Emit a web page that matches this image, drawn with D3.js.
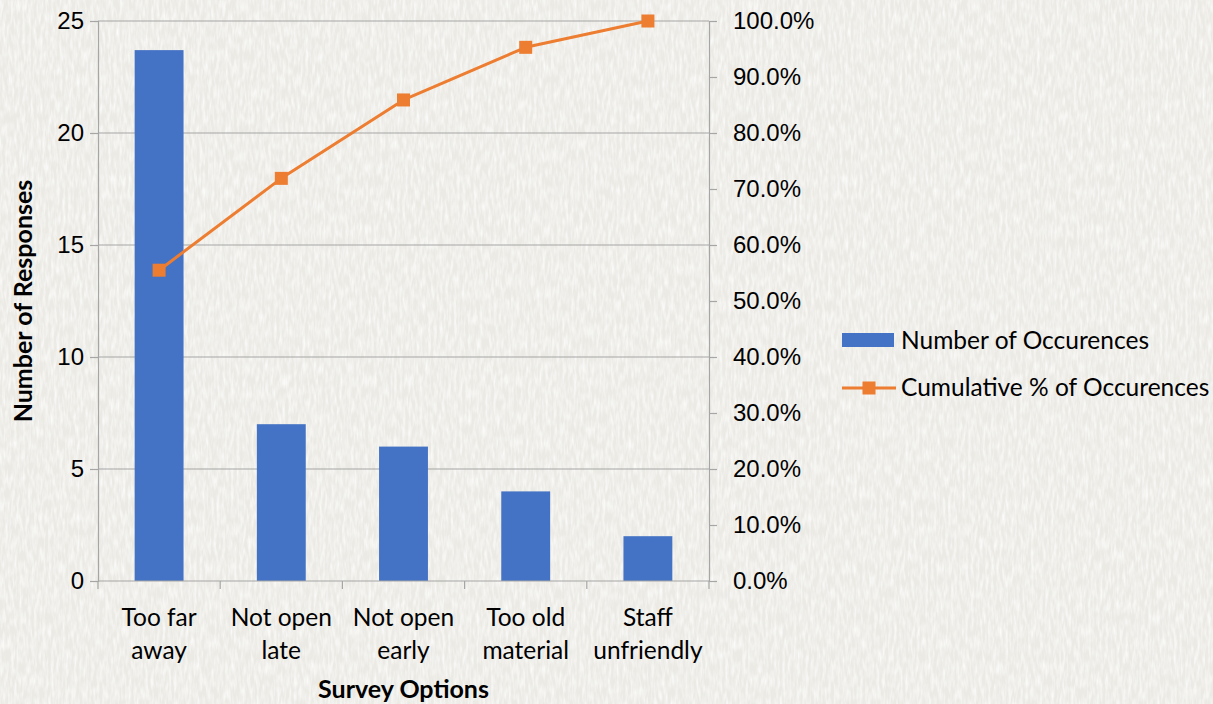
<!DOCTYPE html>
<html lang="en">
<head>
<meta charset="UTF-8">
<title>Survey Pareto Chart</title>
<script src="https://d3js.org/d3.v7.min.js"></script>
<style>
  html, body { margin: 0; padding: 0; background: #f2f1ec; }
  svg { display: block; font-family: Lato, "Open Sans", sans-serif; }
  .tick-label { font-size: 24px; fill: #000; }
  .cat { font-size: 24.5px; }
  .axis-title { font-size: 25px; font-weight: bold; fill: #000; }
  .legend-text { font-size: 24.5px; fill: #000; }
</style>
</head>
<body>
<svg width="1213" height="704"></svg>
<script>
// data
const categories = [["Too far", "away"], ["Not open", "late"], ["Not open", "early"], ["Too old", "material"], ["Staff", "unfriendly"]];
const counts = [23.7, 7, 6, 4, 2];
const cumulativePct = [55.5, 71.9, 85.9, 95.3, 100];
const leftTicks = [0, 5, 10, 15, 20, 25];
const rightTicks = [0, 10, 20, 30, 40, 50, 60, 70, 80, 90, 100];

const W = 1213, H = 704;
const plot = {left: 98, right: 709, top: 21, bottom: 581};
const barColor = "#4472c4", lineColor = "#ed7d31", gridColor = "#a6a6a6";

const svg = d3.select("svg");

// paper-like background texture
const defs = svg.append("defs");
const f = defs.append("filter").attr("id", "paper").attr("x", 0).attr("y", 0).attr("width", "100%").attr("height", "100%");
f.append("feTurbulence").attr("type", "fractalNoise").attr("baseFrequency", "0.35 0.08").attr("numOctaves", 2).attr("seed", 4);
f.append("feColorMatrix").attr("type", "matrix")
  .attr("values", "0 0 0 0 1  0 0 0 0 1  0 0 0 0 1  0 0 0 -1.6 1.05");
svg.append("rect").attr("width", W).attr("height", H).attr("fill", "#ebeae4");
svg.append("rect").attr("width", W).attr("height", H).attr("filter", "url(#paper)").attr("opacity", 0.9);

const idx = d3.range(categories.length);
const x = d3.scaleBand().domain(idx).range([plot.left, plot.right]).padding(0);
const y = d3.scaleLinear().domain([0, 25]).range([plot.bottom, plot.top]);
const y2 = d3.scaleLinear().domain([0, 100]).range([plot.bottom, plot.top]);

// gridlines
svg.append("g").selectAll("line").data(leftTicks.filter(d => d > 0)).join("line")
  .attr("x1", plot.left).attr("x2", plot.right)
  .attr("y1", d => y(d)).attr("y2", d => y(d))
  .attr("stroke", gridColor).attr("stroke-width", 1.2);

// left axis
const leftAxis = svg.append("g").attr("transform", `translate(${plot.left},0)`)
  .call(d3.axisLeft(y).tickValues(leftTicks).tickSize(8).tickPadding(6).tickFormat(d3.format("d")));
leftAxis.select(".domain").attr("stroke", gridColor).attr("stroke-width", 1.2);
leftAxis.selectAll(".tick line").attr("stroke", gridColor).attr("stroke-width", 1.2);
leftAxis.selectAll(".tick text").attr("class", "tick-label").attr("font-family", null).attr("font-size", null).attr("fill", null);

// right axis
const rightAxis = svg.append("g").attr("transform", `translate(${plot.right},0)`)
  .call(d3.axisRight(y2).tickValues(rightTicks).tickSize(8).tickPadding(16).tickFormat(d => d.toFixed(1) + "%"));
rightAxis.select(".domain").attr("stroke", gridColor).attr("stroke-width", 1.2);
rightAxis.selectAll(".tick line").attr("stroke", gridColor).attr("stroke-width", 1.2);
rightAxis.selectAll(".tick text").attr("class", "tick-label").attr("font-family", null).attr("font-size", null).attr("fill", null);

// bars
const barW = x.bandwidth() * 0.4;
svg.append("g").selectAll("rect").data(counts).join("rect")
  .attr("x", (d, i) => x(i) + (x.bandwidth() - barW) / 2)
  .attr("y", d => y(d))
  .attr("width", barW)
  .attr("height", d => plot.bottom - y(d))
  .attr("fill", barColor);

// bottom axis (drawn over bar bases)
const bottom = svg.append("g");
bottom.append("line").attr("x1", plot.left).attr("x2", plot.right)
  .attr("y1", plot.bottom).attr("y2", plot.bottom).attr("stroke", gridColor).attr("stroke-width", 1.2);
bottom.selectAll(".cat-tick").data(d3.range(categories.length + 1)).join("line")
  .attr("class", "cat-tick")
  .attr("x1", i => i < categories.length ? x(i) : plot.right)
  .attr("x2", i => i < categories.length ? x(i) : plot.right)
  .attr("y1", plot.bottom).attr("y2", plot.bottom + 8)
  .attr("stroke", gridColor).attr("stroke-width", 1.2);
const catText = bottom.selectAll(".cat").data(categories).join("text")
  .attr("class", "tick-label cat")
  .attr("text-anchor", "middle")
  .attr("transform", (d, i) => `translate(${x(i) + x.bandwidth() / 2},${plot.bottom + 45})`);
catText.selectAll("tspan").data(d => d).join("tspan")
  .attr("x", 0).attr("dy", (d, j) => j === 0 ? 0 : 33).text(d => d);

// cumulative line
const line = d3.line().x((d, i) => x(i) + x.bandwidth() / 2).y(d => y2(d));
svg.append("path").datum(cumulativePct)
  .attr("d", line).attr("fill", "none").attr("stroke", lineColor).attr("stroke-width", 3).attr("stroke-linejoin", "round");
svg.append("g").selectAll("rect").data(cumulativePct).join("rect")
  .attr("x", (d, i) => x(i) + x.bandwidth() / 2 - 6.5)
  .attr("y", d => y2(d) - 6.5)
  .attr("width", 13).attr("height", 13)
  .attr("fill", lineColor);

// axis titles
svg.append("text").attr("class", "axis-title").attr("text-anchor", "middle")
  .attr("transform", `translate(32,${(plot.top + plot.bottom) / 2}) rotate(-90)`)
  .text("Number of Responses");
svg.append("text").attr("class", "axis-title").attr("text-anchor", "middle")
  .attr("x", (plot.left + plot.right) / 2).attr("y", 698)
  .text("Survey Options");

// legend
const legend = svg.append("g").attr("transform", "translate(842,0)");
legend.append("rect").attr("x", 0).attr("y", 333).attr("width", 52).attr("height", 14).attr("fill", barColor);
legend.append("text").attr("class", "legend-text").attr("x", 59).attr("y", 349).text("Number of Occurences");
legend.append("line").attr("x1", 0).attr("x2", 54).attr("y1", 388).attr("y2", 388)
  .attr("stroke", lineColor).attr("stroke-width", 3);
legend.append("rect").attr("x", 27 - 6.5).attr("y", 388 - 6.5).attr("width", 13).attr("height", 13).attr("fill", lineColor);
legend.append("text").attr("class", "legend-text").attr("x", 59).attr("y", 396).text("Cumulative % of Occurences");
</script>
</body>
</html>
